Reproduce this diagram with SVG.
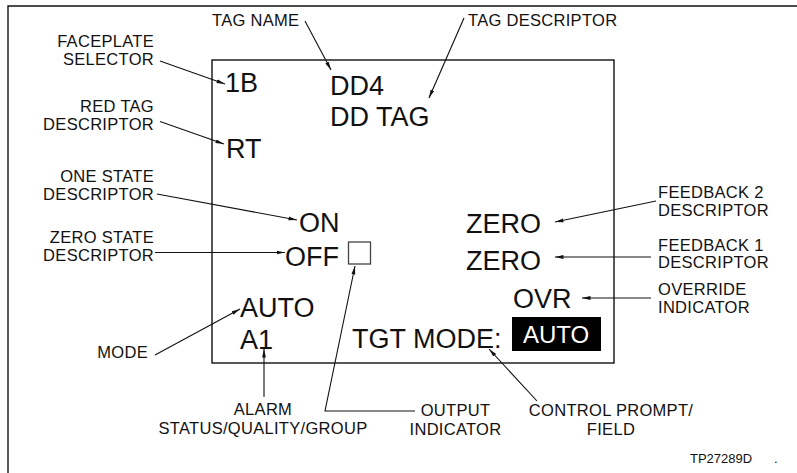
<svg xmlns="http://www.w3.org/2000/svg" width="797" height="473" viewBox="0 0 797 473">
<defs>
<style>
.lbl{font-family:"Liberation Sans",Arial,sans-serif;font-size:16.5px;letter-spacing:0.3px;fill:#111}
.big{font-family:"Liberation Sans",Arial,sans-serif;font-size:27px;fill:#111}
.end{text-anchor:end}
.mid{text-anchor:middle}
.ln{stroke:#111;stroke-width:1.1;fill:none;marker-end:url(#ah)}
.frame{stroke:#111;stroke-width:1.4;fill:none}
</style>
<marker id="ah" markerUnits="userSpaceOnUse" markerWidth="9" markerHeight="5" refX="8.5" refY="2.5" orient="auto">
<path d="M0,0.6 L8.5,2.5 L0,4.4 z" fill="#111"/>
</marker>
</defs>
<rect width="797" height="473" fill="#fff"/>
<g id="frame">
<path class="frame" d="M8,473 L8,6 L797,6"/>
</g>
<g id="display">
<rect class="frame" x="212" y="60" width="402" height="303"/>
</g>
<g id="faceplate-value"><text class="big" x="225" y="92">1B</text></g>
<g id="tag-name-value"><text class="big" x="330" y="95">DD4</text></g>
<g id="tag-desc-value"><text class="big" x="330" y="126">DD TAG</text></g>
<g id="red-tag-value"><text class="big" x="226" y="158">RT</text></g>
<g id="on-value"><text class="big" x="299" y="232">ON</text></g>
<g id="off-value"><text class="big" x="285" y="265.5">OFF</text></g>
<g id="output-indicator-box"><rect x="348.5" y="242" width="22" height="22" fill="none" stroke="#444" stroke-width="1.3"/></g>
<g id="mode-value"><text class="big" x="240" y="317">AUTO</text></g>
<g id="alarm-value"><text class="big" x="240" y="349">A1</text></g>
<g id="tgt-mode"><text class="big" x="352" y="348">TGT MODE:</text></g>
<g id="auto-field">
<rect x="512" y="317" width="89" height="34" fill="#000"/>
<text class="mid" x="556" y="343" style="font-family:'Liberation Sans',Arial,sans-serif;font-size:24px;fill:#fff">AUTO</text>
</g>
<g id="fb2-value"><text class="big" x="466" y="232.5">ZERO</text></g>
<g id="fb1-value"><text class="big" x="466" y="270">ZERO</text></g>
<g id="ovr-value"><text class="big" x="513" y="308">OVR</text></g>

<g id="lbl-tag-name"><text class="lbl" x="212" y="25.5">TAG NAME</text></g>
<g id="lbl-tag-desc"><text class="lbl" x="468" y="25.5">TAG DESCRIPTOR</text></g>
<g id="lbl-faceplate"><text class="lbl end" x="154" y="46.5">FACEPLATE</text><text class="lbl end" x="154" y="65">SELECTOR</text></g>
<g id="lbl-red-tag"><text class="lbl end" x="154" y="111.5">RED TAG</text><text class="lbl end" x="154" y="130">DESCRIPTOR</text></g>
<g id="lbl-one-state"><text class="lbl end" x="154" y="181.5">ONE STATE</text><text class="lbl end" x="154" y="200">DESCRIPTOR</text></g>
<g id="lbl-zero-state"><text class="lbl end" x="154" y="242.5">ZERO STATE</text><text class="lbl end" x="154" y="261">DESCRIPTOR</text></g>
<g id="lbl-mode"><text class="lbl end" x="148" y="357.5">MODE</text></g>
<g id="lbl-alarm"><text class="lbl mid" x="263" y="415">ALARM</text><text class="lbl mid" x="263" y="434">STATUS/QUALITY/GROUP</text></g>
<g id="lbl-output"><text class="lbl mid" x="455.5" y="415.5">OUTPUT</text><text class="lbl mid" x="455.5" y="434.5">INDICATOR</text></g>
<g id="lbl-control"><text class="lbl mid" x="611" y="415.5">CONTROL PROMPT/</text><text class="lbl mid" x="611" y="434.5">FIELD</text></g>
<g id="lbl-fb2"><text class="lbl" x="658" y="198">FEEDBACK 2</text><text class="lbl" x="658" y="215.5">DESCRIPTOR</text></g>
<g id="lbl-fb1"><text class="lbl" x="658" y="250.5">FEEDBACK 1</text><text class="lbl" x="658" y="267.5">DESCRIPTOR</text></g>
<g id="lbl-override"><text class="lbl" x="658" y="295">OVERRIDE</text><text class="lbl" x="658" y="313">INDICATOR</text></g>
<g id="figure-id"><text x="690" y="463" style="font-family:'Liberation Sans',Arial,sans-serif;font-size:13px;fill:#111">TP27289D</text><text x="774" y="463" style="font-family:'Liberation Sans',Arial,sans-serif;font-size:13px;fill:#111">.</text></g>

<g id="connectors">
<line class="ln" x1="160" y1="61" x2="225" y2="84"/>
<line class="ln" x1="160" y1="121.5" x2="224" y2="144"/>
<line class="ln" x1="157" y1="194" x2="297" y2="220"/>
<line class="ln" x1="155" y1="252.5" x2="285" y2="252.5"/>
<line class="ln" x1="155" y1="355" x2="240" y2="309"/>
<line class="ln" x1="264" y1="397" x2="264" y2="349"/>
<polyline class="ln" points="415,411 325,411 355,266"/>
<line class="ln" x1="537" y1="401" x2="489" y2="349"/>
<line class="ln" x1="305" y1="21" x2="331" y2="70"/>
<line class="ln" x1="464" y1="18" x2="429" y2="98"/>
<line class="ln" x1="656" y1="201" x2="555" y2="222"/>
<line class="ln" x1="651" y1="257" x2="555" y2="257"/>
<line class="ln" x1="651" y1="298" x2="582" y2="298"/>
</g>
</svg>
